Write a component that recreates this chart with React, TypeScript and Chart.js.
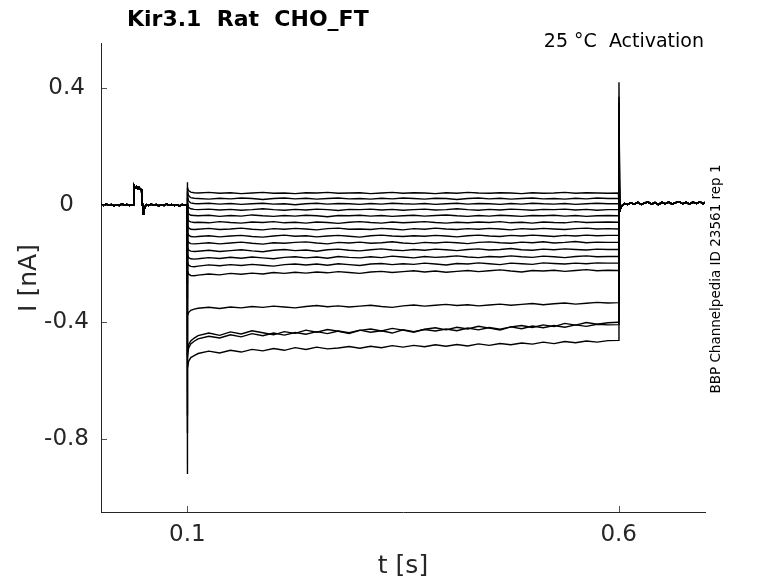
import React, { useEffect, useRef } from 'react';
import { Chart, registerables } from 'chart.js';
import type { Plugin } from 'chart.js';

Chart.register(...registerables);

const FONT = "'DejaVu Sans', sans-serif";

const X_TICKS = [0.1, 0.6];
const Y_TICKS = [-0.8, -0.4, 0, 0.4];

// holding period before the step (shared by all sweeps), t in s, I in nA
const PRE_T = [
  0, 0.003, 0.006, 0.009, 0.012, 0.015, 0.018, 0.021, 0.024, 0.027,
  0.030, 0.033, 0.036, 0.0381, 0.0383, 0.0395, 0.041, 0.0425, 0.044, 0.0455,
  0.047, 0.0476, 0.0484, 0.0488, 0.0494, 0.0505, 0.0515, 0.0525, 0.055, 0.058,
  0.061, 0.064, 0.067, 0.070, 0.073, 0.076, 0.079, 0.082, 0.085, 0.088,
  0.091, 0.094, 0.097, 0.0998,
];
const PRE_I = [
  0.002, -0.002, 0.003, -0.001, 0.002, -0.003, 0.001, -0.002, 0.003, 0.0,
  0.002, -0.002, 0.001, 0.0, 0.066, 0.058, 0.063, 0.055, 0.060, 0.054,
  0.052, 0.004, -0.004, -0.030, -0.026, -0.010, -0.004, 0.001, -0.002, 0.003,
  -0.001, 0.002, -0.003, 0.001, -0.002, 0.003, -0.001, 0.002, -0.002, 0.001,
  -0.003, 0.002, -0.001, 0.001,
];

// test pulse samples
const STEP_T = [
  0.1004, 0.1015, 0.104, 0.108,
  0.1125, 0.125, 0.1375, 0.15, 0.1625, 0.175, 0.1875, 0.2, 0.2125, 0.225,
  0.2375, 0.25, 0.2625, 0.275, 0.2875, 0.3, 0.3125, 0.325, 0.3375, 0.35,
  0.3625, 0.375, 0.3875, 0.4, 0.4125, 0.425, 0.4375, 0.45, 0.4625, 0.475,
  0.4875, 0.5, 0.5125, 0.525, 0.5375, 0.55, 0.5625, 0.575, 0.5875,
  0.5995,
];

const STEP_I = [
  [0.060, 0.049, 0.044, 0.042,
    0.041, 0.043, 0.040, 0.042, 0.039, 0.041, 0.043, 0.040, 0.041, 0.039,
    0.042, 0.041, 0.043, 0.040, 0.041, 0.042, 0.039, 0.041, 0.043, 0.040,
    0.042, 0.041, 0.039, 0.042, 0.040, 0.043, 0.041, 0.040, 0.042, 0.041,
    0.039, 0.042, 0.040, 0.041, 0.043, 0.040, 0.042, 0.041, 0.040,
    0.041],
  [0.048, 0.032, 0.025, 0.023,
    0.022, 0.020, 0.023, 0.021, 0.024, 0.022, 0.019, 0.022, 0.024, 0.021,
    0.023, 0.020, 0.022, 0.024, 0.021, 0.022, 0.020, 0.023, 0.021, 0.024,
    0.022, 0.020, 0.023, 0.022, 0.019, 0.022, 0.024, 0.021, 0.023, 0.020,
    0.022, 0.024, 0.021, 0.022, 0.020, 0.023, 0.021, 0.024, 0.022,
    0.022],
  [0.030, 0.014, 0.007, 0.005,
    0.004, 0.006, 0.003, 0.005, 0.002, 0.004, 0.006, 0.003, 0.004, 0.001,
    0.004, 0.006, 0.003, 0.005, 0.004, 0.002, 0.005, 0.003, 0.006, 0.004,
    0.003, 0.005, 0.002, 0.004, 0.006, 0.003, 0.005, 0.004, 0.002, 0.005,
    0.003, 0.006, 0.004, 0.003, 0.005, 0.002, 0.004, 0.006, 0.004,
    0.004],
  [0.010, -0.008, -0.013, -0.015,
    -0.016, -0.014, -0.017, -0.015, -0.018, -0.016, -0.013, -0.016, -0.018, -0.015,
    -0.017, -0.014, -0.016, -0.019, -0.015, -0.016, -0.014, -0.017, -0.015, -0.018,
    -0.016, -0.014, -0.017, -0.016, -0.013, -0.016, -0.018, -0.015, -0.017, -0.014,
    -0.016, -0.018, -0.015, -0.016, -0.014, -0.017, -0.015, -0.018, -0.016,
    -0.016],
  [-0.015, -0.030, -0.035, -0.036,
    -0.037, -0.035, -0.039, -0.036, -0.038, -0.034, -0.037, -0.039, -0.036, -0.038,
    -0.035, -0.037, -0.040, -0.036, -0.037, -0.035, -0.038, -0.036, -0.039, -0.037,
    -0.035, -0.038, -0.036, -0.034, -0.037, -0.039, -0.036, -0.038, -0.035, -0.037,
    -0.039, -0.036, -0.037, -0.035, -0.038, -0.036, -0.039, -0.037, -0.036,
    -0.037],
  [-0.042, -0.054, -0.058, -0.060,
    -0.059, -0.061, -0.057, -0.060, -0.062, -0.058, -0.060, -0.057, -0.061, -0.059,
    -0.062, -0.058, -0.060, -0.063, -0.059, -0.057, -0.060, -0.062, -0.058, -0.061,
    -0.059, -0.057, -0.060, -0.062, -0.059, -0.061, -0.058, -0.060, -0.057, -0.061,
    -0.059, -0.062, -0.058, -0.060, -0.061, -0.057, -0.060, -0.059, -0.058,
    -0.059],
  [-0.070, -0.078, -0.083, -0.084,
    -0.083, -0.080, -0.084, -0.082, -0.079, -0.083, -0.085, -0.081, -0.083, -0.080,
    -0.082, -0.085, -0.081, -0.079, -0.083, -0.082, -0.084, -0.080, -0.082, -0.085,
    -0.081, -0.083, -0.079, -0.082, -0.084, -0.081, -0.083, -0.080, -0.082, -0.085,
    -0.081, -0.083, -0.080, -0.082, -0.084, -0.081, -0.079, -0.082, -0.081,
    -0.082],
  [-0.095, -0.103, -0.108, -0.109,
    -0.108, -0.105, -0.109, -0.106, -0.104, -0.108, -0.110, -0.106, -0.103, -0.107,
    -0.105, -0.109, -0.106, -0.104, -0.107, -0.110, -0.105, -0.103, -0.106, -0.108,
    -0.105, -0.107, -0.104, -0.106, -0.109, -0.105, -0.103, -0.106, -0.108, -0.104,
    -0.106, -0.103, -0.105, -0.108, -0.104, -0.106, -0.103, -0.105, -0.104,
    -0.104],
  [-0.120, -0.128, -0.132, -0.133,
    -0.132, -0.129, -0.133, -0.130, -0.127, -0.131, -0.134, -0.129, -0.131, -0.128,
    -0.126, -0.130, -0.133, -0.128, -0.130, -0.127, -0.131, -0.129, -0.126, -0.130,
    -0.132, -0.128, -0.130, -0.127, -0.129, -0.132, -0.128, -0.126, -0.129, -0.131,
    -0.127, -0.129, -0.126, -0.130, -0.128, -0.125, -0.129, -0.127, -0.128,
    -0.128],
  [-0.145, -0.154, -0.158, -0.159,
    -0.158, -0.155, -0.159, -0.156, -0.153, -0.157, -0.160, -0.155, -0.152, -0.156,
    -0.154, -0.158, -0.153, -0.151, -0.155, -0.157, -0.153, -0.150, -0.154, -0.156,
    -0.152, -0.155, -0.151, -0.153, -0.156, -0.152, -0.150, -0.154, -0.152, -0.149,
    -0.153, -0.155, -0.151, -0.153, -0.150, -0.152, -0.154, -0.151, -0.152,
    -0.152],
  [-0.170, -0.180, -0.184, -0.185,
    -0.184, -0.180, -0.183, -0.179, -0.182, -0.178, -0.181, -0.184, -0.179, -0.177,
    -0.181, -0.178, -0.182, -0.176, -0.179, -0.181, -0.177, -0.180, -0.175, -0.178,
    -0.181, -0.176, -0.179, -0.177, -0.174, -0.178, -0.180, -0.176, -0.178, -0.174,
    -0.177, -0.179, -0.175, -0.177, -0.180, -0.176, -0.174, -0.177, -0.176,
    -0.176],
  [-0.195, -0.206, -0.210, -0.211,
    -0.209, -0.205, -0.208, -0.204, -0.207, -0.203, -0.206, -0.209, -0.204, -0.202,
    -0.205, -0.202, -0.206, -0.201, -0.204, -0.207, -0.202, -0.200, -0.204, -0.201,
    -0.203, -0.199, -0.202, -0.205, -0.200, -0.202, -0.198, -0.201, -0.204, -0.199,
    -0.201, -0.203, -0.198, -0.200, -0.202, -0.199, -0.201, -0.198, -0.199,
    -0.199],
  [-0.225, -0.236, -0.241, -0.242,
    -0.240, -0.236, -0.239, -0.234, -0.237, -0.233, -0.236, -0.231, -0.234, -0.230,
    -0.233, -0.229, -0.232, -0.228, -0.231, -0.234, -0.229, -0.227, -0.231, -0.228,
    -0.225, -0.229, -0.226, -0.230, -0.227, -0.224, -0.228, -0.225, -0.222, -0.226,
    -0.229, -0.224, -0.226, -0.223, -0.227, -0.224, -0.221, -0.225, -0.223,
    -0.224],
  [-0.380, -0.368, -0.360, -0.356,
    -0.353, -0.350, -0.354, -0.349, -0.352, -0.347, -0.350, -0.346, -0.349, -0.352,
    -0.347, -0.344, -0.348, -0.345, -0.349, -0.346, -0.343, -0.347, -0.350, -0.345,
    -0.342, -0.346, -0.343, -0.340, -0.344, -0.341, -0.345, -0.342, -0.339, -0.343,
    -0.340, -0.337, -0.341, -0.338, -0.335, -0.339, -0.336, -0.333, -0.335,
    -0.334],
  [-0.500, -0.478, -0.465, -0.455,
    -0.447, -0.438, -0.446, -0.434, -0.441, -0.430, -0.437, -0.444, -0.433, -0.439,
    -0.428, -0.435, -0.426, -0.432, -0.440, -0.429, -0.424, -0.431, -0.422, -0.428,
    -0.435, -0.425, -0.420, -0.427, -0.418, -0.424, -0.415, -0.421, -0.428, -0.417,
    -0.412, -0.419, -0.410, -0.416, -0.405, -0.411, -0.402, -0.408, -0.403,
    -0.401],
  [-0.520, -0.490, -0.475, -0.466,
    -0.458, -0.449, -0.455, -0.444, -0.451, -0.440, -0.447, -0.438, -0.445, -0.436,
    -0.442, -0.433, -0.440, -0.431, -0.437, -0.428, -0.435, -0.430, -0.438, -0.427,
    -0.433, -0.426, -0.431, -0.424, -0.430, -0.421, -0.427, -0.419, -0.425, -0.417,
    -0.423, -0.414, -0.420, -0.412, -0.418, -0.410, -0.415, -0.408, -0.410,
    -0.409],
  [-0.560, -0.535, -0.522, -0.515,
    -0.508, -0.500, -0.506, -0.497, -0.503, -0.494, -0.499, -0.491, -0.497, -0.488,
    -0.494, -0.486, -0.492, -0.489, -0.484, -0.490, -0.483, -0.488, -0.481, -0.486,
    -0.480, -0.485, -0.478, -0.483, -0.477, -0.482, -0.475, -0.480, -0.474, -0.478,
    -0.472, -0.476, -0.469, -0.474, -0.467, -0.471, -0.465, -0.469, -0.464,
    -0.463],
];

// capacitive transients at step on (t = 0.1) and step off (t = 0.6)
const SPIKE_ON = [0.078, 0.06, 0.045, 0.025, 0.005, -0.03, -0.07, -0.11, -0.15, -0.19, -0.23, -0.27, -0.32, -0.52, -0.72, -0.78, -0.92];
const SPIKE_OFF = [0.012, 0.02, 0.03, 0.045, 0.06, 0.075, 0.09, 0.105, 0.12, 0.135, 0.15, 0.165, 0.18, 0.27, 0.35, 0.37, 0.42];

// return to holding after the step (shared)
const TAIL_T = [
  0.6012, 0.602, 0.603, 0.6045, 0.607, 0.61, 0.614, 0.618, 0.622, 0.626,
  0.63, 0.634, 0.638, 0.642, 0.646, 0.65, 0.654, 0.658, 0.662, 0.666,
  0.67, 0.674, 0.678, 0.682, 0.686, 0.69, 0.694, 0.698, 0.7,
];
const TAIL_I = [
  -0.02, -0.013, -0.006, 0.0, 0.005, 0.002, 0.008, 0.003, 0.009, 0.002,
  0.007, 0.010, 0.003, 0.008, 0.001, 0.009, 0.004, 0.010, 0.003, 0.008,
  0.011, 0.004, 0.009, 0.003, 0.010, 0.005, 0.011, 0.004, 0.009,
];

const AXIS_COLOR = '#262626';

// MATLAB style: ticks point into the plot, texts placed by hand
const decorPlugin: Plugin<'line'> = {
  id: 'decor',
  afterDraw(chart) {
    const { ctx, chartArea, scales } = chart;
    const xs = scales.x;
    const ys = scales.y;
    ctx.save();
    ctx.strokeStyle = AXIS_COLOR;
    ctx.lineWidth = 0.8;
    ctx.beginPath();
    X_TICKS.forEach((v) => {
      const px = Math.round(xs.getPixelForValue(v)) + 0.5;
      ctx.moveTo(px, chartArea.bottom);
      ctx.lineTo(px, chartArea.bottom - 6);
    });
    Y_TICKS.forEach((v) => {
      const py = Math.round(ys.getPixelForValue(v)) + 0.5;
      ctx.moveTo(chartArea.left, py);
      ctx.lineTo(chartArea.left + 6, py);
    });
    ctx.stroke();

    ctx.fillStyle = '#000';
    ctx.font = `bold 22px ${FONT}`;
    ctx.textAlign = 'left';
    ctx.textBaseline = 'alphabetic';
    ctx.fillText('Kir3.1  Rat  CHO_FT', 127, 26);

    ctx.font = `19px ${FONT}`;
    ctx.textAlign = 'right';
    ctx.fillText('25 °C  Activation', 704, 47);

    ctx.fillStyle = AXIS_COLOR;
    ctx.font = `25px ${FONT}`;
    ctx.textAlign = 'center';
    ctx.textBaseline = 'middle';
    ctx.fillText('t [s]', 403, 566);

    ctx.save();
    ctx.translate(29, 278);
    ctx.rotate(-Math.PI / 2);
    ctx.fillText('I [nA]', 0, 0);
    ctx.restore();

    ctx.save();
    ctx.fillStyle = '#000';
    ctx.font = `13.5px ${FONT}`;
    ctx.translate(716, 279);
    ctx.rotate(-Math.PI / 2);
    ctx.fillText('BBP Channelpedia ID 23561 rep 1', 0, 0);
    ctx.restore();

    ctx.restore();
  },
};

const App: React.FC = () => {
  const canvasRef = useRef<HTMLCanvasElement | null>(null);
  const chartRef = useRef<Chart<'line'> | null>(null);

  useEffect(() => {
    if (!canvasRef.current) return;
    if (chartRef.current) chartRef.current.destroy();

    const datasets = STEP_I.map((row, k) => ({
      data: [
        ...PRE_T.map((t, i) => ({ x: t, y: PRE_I[i] })),
        { x: 0.1, y: SPIKE_ON[k] },
        ...STEP_T.map((t, i) => ({ x: t, y: row[i] })),
        { x: 0.6003, y: SPIKE_OFF[k] },
        ...TAIL_T.map((t, i) => ({ x: t, y: TAIL_I[i] })),
      ],
      borderColor: '#000',
      borderWidth: 1.4,
      pointRadius: 0,
      tension: 0,
      fill: false,
    }));

    chartRef.current = new Chart(canvasRef.current, {
      type: 'line',
      data: { datasets },
      options: {
        animation: false,
        responsive: false,
        events: [],
        layout: { padding: { left: 0, top: 43, right: 73, bottom: 0 } },
        plugins: {
          legend: { display: false },
          tooltip: { enabled: false },
          title: { display: false },
        },
        scales: {
          x: {
            type: 'linear',
            min: 0,
            max: 0.7,
            grid: { display: false, drawTicks: false },
            border: { display: true, color: AXIS_COLOR, width: 1 },
            afterBuildTicks: (scale) => {
              scale.ticks = X_TICKS.map((v) => ({ value: v }));
            },
            afterFit: (scale) => {
              scale.height = 71;
            },
            ticks: {
              color: AXIS_COLOR,
              font: { family: FONT, size: 23 },
              padding: 9,
              maxRotation: 0,
              callback: (v) => String(v),
            },
          },
          y: {
            type: 'linear',
            min: -1.05,
            max: 0.554,
            grid: { display: false, drawTicks: false },
            border: { display: true, color: AXIS_COLOR, width: 1 },
            afterBuildTicks: (scale) => {
              scale.ticks = Y_TICKS.map((v) => ({ value: v }));
            },
            afterFit: (scale) => {
              scale.width = 101;
            },
            ticks: {
              color: AXIS_COLOR,
              font: { family: FONT, size: 23 },
              padding: 12,
              crossAlign: 'center',
              callback: (v) => String(v),
            },
          },
        },
      },
      plugins: [decorPlugin],
    });

    return () => {
      if (chartRef.current) {
        chartRef.current.destroy();
        chartRef.current = null;
      }
    };
  }, []);

  return (
    <div style={{ position: 'fixed', left: 0, top: 0, width: 778, height: 583, background: '#fff' }}>
      <canvas ref={canvasRef} width={778} height={583} style={{ display: 'block' }} />
    </div>
  );
};

export default App;
